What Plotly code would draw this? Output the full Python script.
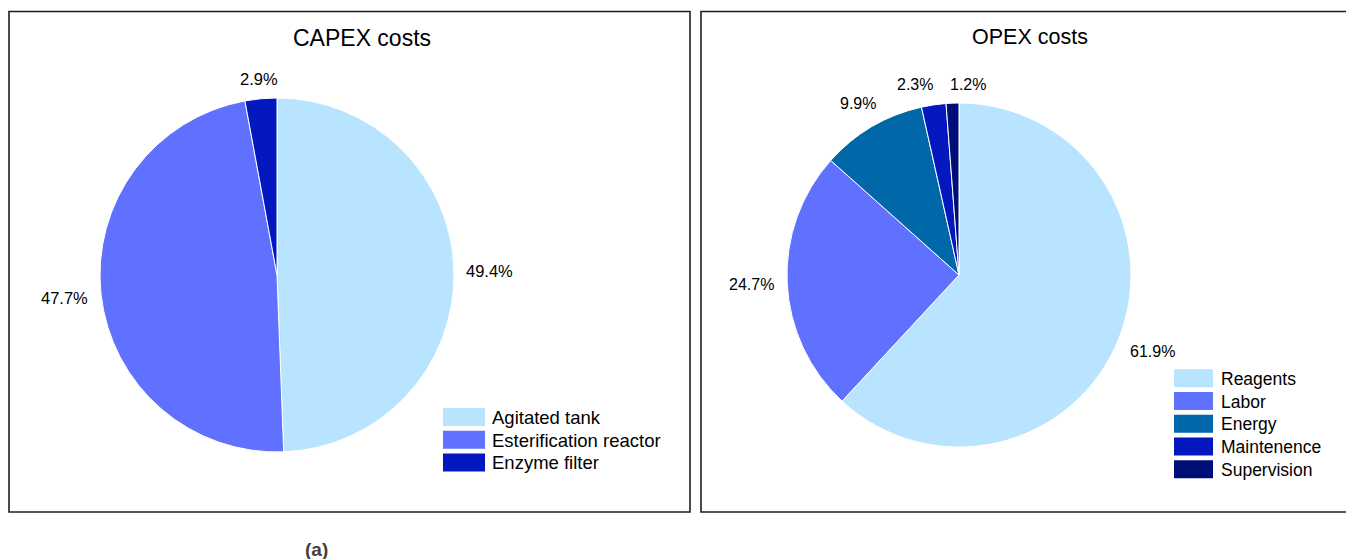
import math
import plotly.graph_objects as go

capex_labels = ["Agitated tank", "Esterification reactor", "Enzyme filter"]
capex_values = [49.4, 47.7, 2.9]
capex_colors = ["#B9E4FF", "#6070FF", "#0418C0"]

opex_labels = ["Reagents", "Labor", "Energy", "Maintenence", "Supervision"]
opex_values = [61.9, 24.7, 9.9, 2.3, 1.2]
opex_colors = ["#B9E4FF", "#6070FF", "#0068A8", "#0418C0", "#000F78"]

# page body has an 8px margin, so the figure sits at (8, 8) in the window
OFF = 8
FW, FH = 1354 - OFF, 559 - OFF
FONT = "Liberation Sans, Arial, sans-serif"


def px(x):
    return (x - OFF) / FW


def py(y):
    return 1 - (y - OFF) / FH


# pie layout (window pixels)
panels = [
    dict(labels=capex_labels, values=capex_values, colors=capex_colors,
         cx=277, cy=275, r=177, title="CAPEX costs", tx=362, ty=38, tsize=23,
         lsize=16.5, leg_x0=443, leg_x1=485, leg_y0=417, leg_dy=22.7, leg_font=18.5,
         leg_tx=490),
    dict(labels=opex_labels, values=opex_values, colors=opex_colors,
         cx=959, cy=275, r=172, title="OPEX costs", tx=1030, ty=37, tsize=21.5,
         lsize=16, leg_x0=1174, leg_x1=1213, leg_y0=378.3, leg_dy=22.75, leg_font=17.5,
         leg_tx=1219),
]

fig = go.Figure()
shapes = []
annotations = []

for p in panels:
    cx, cy, r = p["cx"], p["cy"], p["r"]
    fig.add_trace(go.Pie(
        labels=p["labels"], values=p["values"],
        marker=dict(colors=p["colors"], line=dict(color="white", width=1)),
        sort=False, direction="clockwise", rotation=0,
        textinfo="none", showlegend=False,
        domain=dict(x=[px(cx - r), px(cx + r)], y=[py(cy + r), py(cy - r)]),
        hovertemplate="%{label}: %{value:.1f}%<extra></extra>",
    ))

    # percentage labels placed outside each slice along its mid-angle
    total = sum(p["values"])
    cum = 0.0
    labs = []
    for v in p["values"]:
        mid = (cum + v / 2) / total * 2 * math.pi
        cum += v
        dx, dy = math.sin(mid), -math.cos(mid)  # screen coords (y down)
        txt = f"{v:.1f}%"
        w = len(txt) * 0.56 * p["lsize"] + 0.33 * p["lsize"]
        h = p["lsize"]
        ext = abs(dx) * w / 2 + abs(dy) * h / 2
        d = r + 10 + ext
        labs.append([cx + d * dx, cy + d * dy, w, h, txt])
    # push apart labels that collide
    for _ in range(20):
        for i in range(len(labs)):
            for j in range(i + 1, len(labs)):
                a, b = labs[i], labs[j]
                if abs(a[1] - b[1]) < (a[3] + b[3]) / 2:
                    need = (a[2] + b[2]) / 2 + 12
                    sep = abs(a[0] - b[0])
                    if sep < need:
                        push = (need - sep) / 2
                        if a[0] <= b[0]:
                            a[0] -= push
                            b[0] += push
                        else:
                            a[0] += push
                            b[0] -= push
    for x, y, w, h, txt in labs:
        annotations.append(dict(text=txt, x=px(x), y=py(y), xref="paper", yref="paper",
                                showarrow=False, xanchor="center", yanchor="middle",
                                font=dict(size=p["lsize"], color="black", family=FONT)))

    annotations.append(dict(text=p["title"], x=px(p["tx"]), y=py(p["ty"]),
                            xref="paper", yref="paper", showarrow=False,
                            xanchor="center", yanchor="middle",
                            font=dict(size=p["tsize"], color="black", family=FONT)))

    # legend with wide swatches
    for i, (lab, col) in enumerate(zip(p["labels"], p["colors"])):
        yc = p["leg_y0"] + i * p["leg_dy"]
        shapes.append(dict(type="rect", xref="paper", yref="paper",
                           x0=px(p["leg_x0"]), x1=px(p["leg_x1"]),
                           y0=py(yc + 9), y1=py(yc - 9),
                           fillcolor=col, line=dict(width=0)))
        annotations.append(dict(text=lab, x=px(p["leg_tx"]), y=py(yc + 0.5),
                                xref="paper", yref="paper", showarrow=False,
                                xanchor="left", yanchor="middle",
                                font=dict(size=p["leg_font"], color="black", family=FONT)))

# panel frames
for x0, x1 in [(9, 690), (701, 1347)]:
    shapes.append(dict(type="rect", xref="paper", yref="paper",
                       x0=px(x0), x1=px(x1), y0=py(512), y1=py(11.5),
                       line=dict(color="#1E1E1E", width=1.6)))

annotations.append(dict(text="<b>(a)</b>", x=px(316), y=py(549), xref="paper", yref="paper",
                        showarrow=False, xanchor="center", yanchor="middle",
                        font=dict(size=19, color="#404040", family=FONT)))

fig.update_layout(
    width=FW, height=FH,
    margin=dict(l=0, r=0, t=0, b=0),
    paper_bgcolor="white", plot_bgcolor="white",
    shapes=shapes, annotations=annotations,
    showlegend=False,
)

fig.write_html("out.html")
